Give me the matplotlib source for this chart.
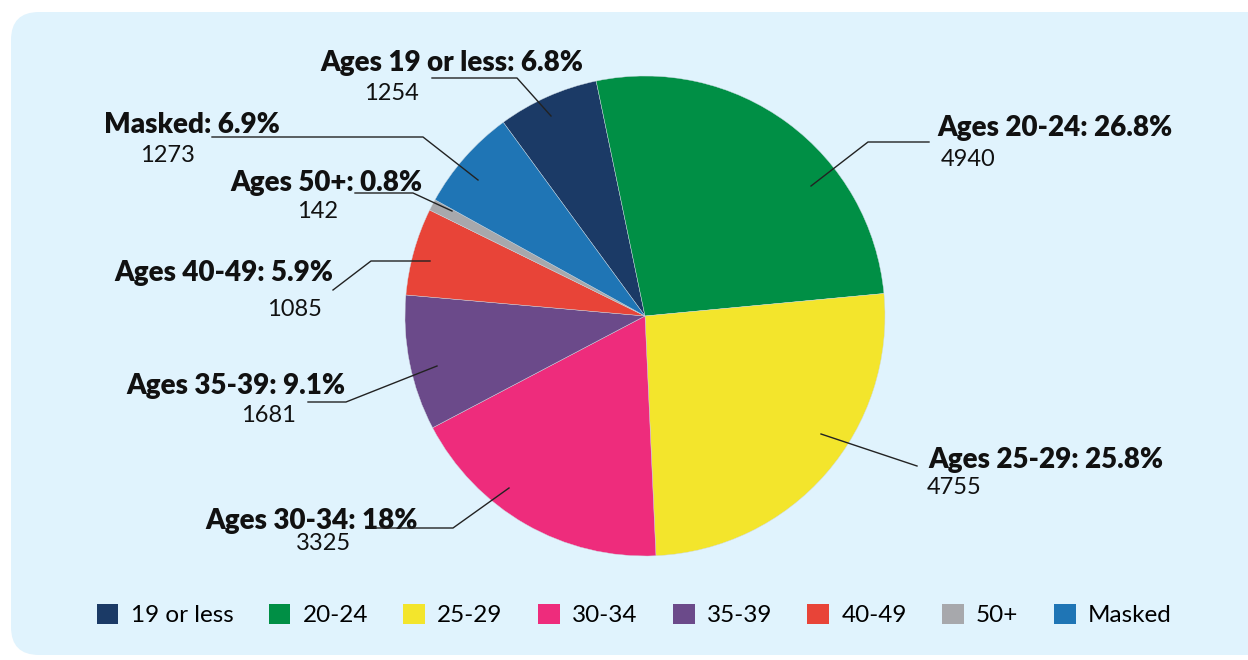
import matplotlib.pyplot as plt
from matplotlib.patches import FancyBboxPatch, Patch

# data
groups = ["19 or less", "20-24", "25-29", "30-34", "35-39", "40-49", "50+", "Masked"]
counts = [1254, 4940, 4755, 3325, 1681, 1085, 142, 1273]
colors = ["#1B3A66", "#008F45", "#F3E52C", "#EE2C7C", "#6B4A8A", "#E84438", "#A7A8AC", "#1F75B5"]

W, H = 1248, 660
FONT = "Lato"

# label layout in pixels from top-left: (label x, ha, y), (number x, y), leader path
label_pos = [(583, "right", 63), (937, "left", 128), (928, "left", 460), (418, "right", 521),
             (345, "right", 386), (333, "right", 273), (422, "right", 183), (280, "right", 125)]
num_pos = [(391, 93), (968, 160), (954, 487), (323, 543), (268, 416), (294, 309), (318, 211), (167, 155)]
leaders = [
    [(432, 78), (517, 78), (551, 116)],
    [(929, 142), (868, 142), (811, 186)],
    [(917, 466), (821, 434)],
    [(375, 528), (453, 528), (509, 488)],
    [(308, 402), (346, 402), (437, 366)],
    [(333, 290), (371, 261), (430, 261)],
    [(355, 193), (413, 193), (452, 211)],
    [(212, 137), (423, 137), (478, 180)],
]


def fy(y):
    return H - y


fig = plt.figure(figsize=(W / 100, H / 100), dpi=100)
fig.patch.set_facecolor("white")
ax = fig.add_axes([0, 0, 1, 1])

bg = FancyBboxPatch((11, fy(655)), 1300, 643, boxstyle="round,pad=0,rounding_size=28",
                    facecolor="#E0F3FD", edgecolor="none", zorder=0)
ax.add_patch(bg)

total = sum(counts)
ax.pie(counts, colors=colors, startangle=126.2, counterclock=False,
       center=(645, fy(316)), radius=240, frame=True,
       wedgeprops=dict(linewidth=0.3, edgecolor="#cfd8e0"))
ax.set_xlim(0, W)
ax.set_ylim(0, H)
ax.axis("off")

for i, g in enumerate(groups):
    pct = f"{100 * counts[i] / total:.1f}".rstrip("0").rstrip(".")
    name = g if g == "Masked" else "Ages " + g
    lx, ha, ly = label_pos[i]
    ax.text(lx, fy(ly), f"{name}: {pct}%", ha=ha, va="center", fontsize=20,
            fontweight="heavy", family=FONT, color="#111111", zorder=5)
    nx, ny = num_pos[i]
    ax.text(nx, fy(ny), str(counts[i]), ha="center", va="center", fontsize=17,
            family=FONT, color="#111111", zorder=5)
    xs = [p[0] for p in leaders[i]]
    ys = [fy(p[1]) for p in leaders[i]]
    ax.plot(xs, ys, color="#222222", lw=1.0, zorder=6)

handles = [Patch(facecolor=c, edgecolor="none") for c in colors]
leg = fig.legend(handles, groups, loc="center", bbox_to_anchor=(634 / W, 1 - 615 / H),
                 ncol=8, frameon=False, handlelength=0.9, handleheight=0.9,
                 handletextpad=0.5, columnspacing=1.45,
                 prop={"family": FONT, "size": 17.5})

fig.savefig("out.png", dpi=100)
